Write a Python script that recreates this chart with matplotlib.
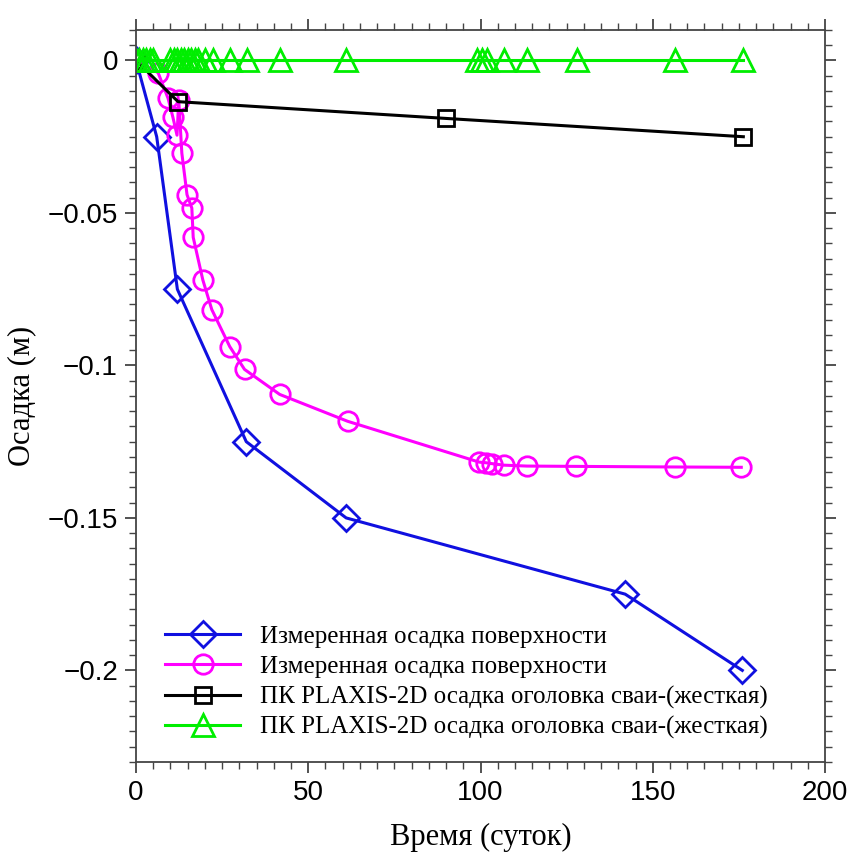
import matplotlib
matplotlib.use('Agg')
import matplotlib.pyplot as plt
from matplotlib.ticker import MultipleLocator, FuncFormatter

# измеренная осадка поверхности (синие ромбы)
t_blue = [0, 6, 12, 32, 61, 142, 176]
s_blue = [0, -0.025, -0.075, -0.125, -0.15, -0.175, -0.2]

# измеренная осадка поверхности (розовые круги)
t_mag = [0, 6.4, 9.3, 10.7, 11.9, 12.4, 13.3, 14.8, 16.2, 16.6, 19.4, 22, 27.2, 31.5, 41.7, 61.4,
         99.6, 101.5, 103.3, 106.8, 113.5, 127.6, 156.6, 175.7]
s_mag = [0, -0.004, -0.0124, -0.0186, -0.0245, -0.013, -0.0304, -0.044, -0.0484, -0.058, -0.072,
         -0.0817, -0.0938, -0.1013, -0.1095, -0.1183, -0.1317, -0.1319, -0.1322, -0.1327, -0.133,
         -0.1331, -0.1333, -0.1334]

# PLAXIS-2D (черные квадраты)
t_blk = [0, 12.2, 90, 176.3]
s_blk = [0, -0.0135, -0.019, -0.025]

# PLAXIS-2D (зеленые треугольники)
t_grn = [0, 1, 2, 3, 4, 5, 10, 11, 12, 13, 14, 15, 16, 17, 18, 20, 22.3, 27.2, 32.1, 41.7, 61,
         98.9, 100.4, 101.9, 106.8, 113.5, 128, 156.6, 176.3]
s_grn = [0] * len(t_grn)

labels = ['Измеренная осадка поверхности',
          'Измеренная осадка поверхности',
          'ПК PLAXIS-2D осадка оголовка сваи-(жесткая)',
          'ПК PLAXIS-2D осадка оголовка сваи-(жесткая)']

fig = plt.figure(figsize=(8.47, 8.57), dpi=100)
ax = fig.add_axes([0.1606, 0.111, 0.8134, 0.854])

lw = 2.2
mew = 2.0
ax.plot(t_blue, s_blue, color='#1010e0', lw=lw, marker='D', ms=13, mfc='none', mew=mew, label=labels[0])
ax.plot(t_mag, s_mag, color='#ff00ff', lw=lw, marker='o', ms=14, mfc='none', mew=mew, label=labels[1])
ax.plot(t_blk, s_blk, color='black', lw=lw, marker='s', ms=11, mfc='none', mew=mew, label=labels[2])
ax.plot(t_grn, s_grn, color='#00ee00', lw=lw, marker='^', ms=16, mfc='none', mew=mew, label=labels[3])

ax.set_xlim(0, 200)
ax.set_ylim(-0.23, 0.01)
ax.xaxis.set_major_locator(MultipleLocator(50))
ax.xaxis.set_minor_locator(MultipleLocator(5))
ax.yaxis.set_major_locator(MultipleLocator(0.05))
ax.yaxis.set_minor_locator(MultipleLocator(0.005))
ax.yaxis.set_major_formatter(FuncFormatter(lambda v, p: ('%g' % round(v, 3)).replace('-', '\u2212') if abs(v) > 1e-9 else '0'))

for sp in ax.spines.values():
    sp.set_color('#444444')
    sp.set_linewidth(1.3)
ax.tick_params(which='both', direction='out', top=True, right=True, colors='#444444')
ax.tick_params(which='major', length=8, width=1.3, labelsize=20, labelcolor='black', pad=5)
ax.tick_params(which='minor', length=5, width=1.0)
for lab in ax.get_xticklabels() + ax.get_yticklabels():
    lab.set_family('Liberation Sans')

ax.set_xlabel('Время (суток)', family='Liberation Serif', fontsize=22, labelpad=12)
ax.set_ylabel('Осадка (м)', family='Liberation Serif', fontsize=22, labelpad=8)

ax.legend(loc='lower left', bbox_to_anchor=(0.01, 0.0), frameon=False,
          prop={'family': 'Liberation Serif', 'size': 18}, handlelength=3.0,
          labelspacing=0.3, handletextpad=0.8)

fig.savefig('out.png', dpi=100)
